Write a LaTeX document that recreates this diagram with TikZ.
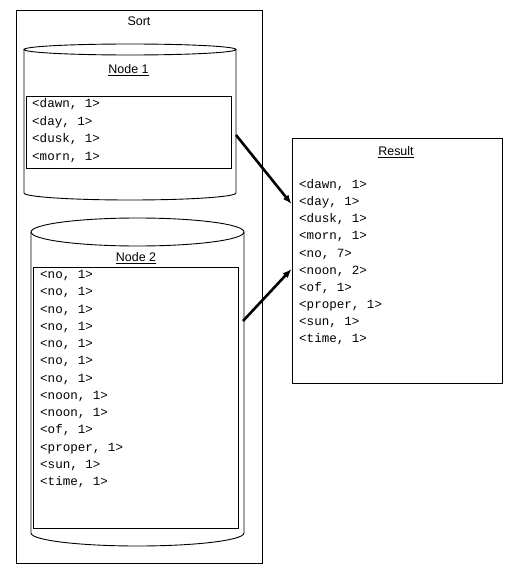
\documentclass[tikz,border=0pt]{standalone}
\usepackage{fontspec}
\setmainfont{Liberation Sans}
\setmonofont{Liberation Mono}
\usetikzlibrary{arrows.meta}
\begin{document}
\begin{tikzpicture}[x=1bp,y=-1bp,
  thin line/.style={line width=0.9bp},
  boxstyle/.style={draw,thin line,anchor=north west,inner sep=0pt},
  title/.style={font=\fontsize{12.5}{15}\selectfont,inner sep=0pt},
  entry/.style={font=\ttfamily\fontsize{12.6}{15}\selectfont,anchor=base west,inner sep=0pt},
  flow/.style={line width=2.6bp,-{Latex[length=9bp,width=7bp]}}]
\useasboundingbox (0,0) rectangle (516,584);
% Sort container
\node[boxstyle,minimum width=246bp,minimum height=553bp] (sort) at (16,10) {};
\node[title] (sortlbl) at (139,21) {Sort};
% Cylinder 1
\draw[thin line] (130,49.5) ellipse [x radius=106, y radius=5.5];
\draw[thin line] (24,49.5) -- (24,193) arc[start angle=180,end angle=0,x radius=106,y radius=7] -- (236,49.5);
\coordinate (c1) at (236,135);
\node[title] (n1lbl) at (128.5,70.5) {\underline{Node 1}};
\node[boxstyle,minimum width=205bp,minimum height=72bp] (box1) at (26,96) {};
\foreach \t [count=\i] in {{<dawn, 1>},{<day, 1>},{<dusk, 1>},{<morn, 1>}}
  \node[entry] (a\i) at (32,107.5+17.7*\i-17.7) {\t};
% Cylinder 2
\draw[thin line] (137.5,232) ellipse [x radius=106.5, y radius=14];
\draw[thin line] (31,232) -- (31,533) arc[start angle=180,end angle=0,x radius=106.5,y radius=13] -- (244,232);
\coordinate (c2) at (243,321);
\node[title] (n2lbl) at (136,258) {\underline{Node 2}};
\node[boxstyle,minimum width=205bp,minimum height=261bp] (box2) at (33,267) {};
\foreach \t [count=\i] in {{<no, 1>},{<no, 1>},{<no, 1>},{<no, 1>},{<no, 1>},{<no, 1>},{<no, 1>},{<noon, 1>},{<noon, 1>},{<of, 1>},{<proper, 1>},{<sun, 1>},{<time, 1>}}
  \node[entry] (b\i) at (40,278.5+17.25*\i-17.25) {\t};
% Result
\node[boxstyle,minimum width=210bp,minimum height=245bp] (res) at (292,138) {};
\node[title] (reslbl) at (396,152) {\underline{Result}};
\foreach \t [count=\i] in {{<dawn, 1>},{<day, 1>},{<dusk, 1>},{<morn, 1>},{<no, 7>},{<noon, 2>},{<of, 1>},{<proper, 1>},{<sun, 1>},{<time, 1>}}
  \node[entry] (r\i) at (299,188.5+17.15*\i-17.15) {\t};
\coordinate (t1) at (291.5,204);
\coordinate (t2) at (291.5,269);
% Arrows
\draw[flow] (c1) -- (t1);
\draw[flow] (c2) -- (t2);
\end{tikzpicture}
\end{document}
